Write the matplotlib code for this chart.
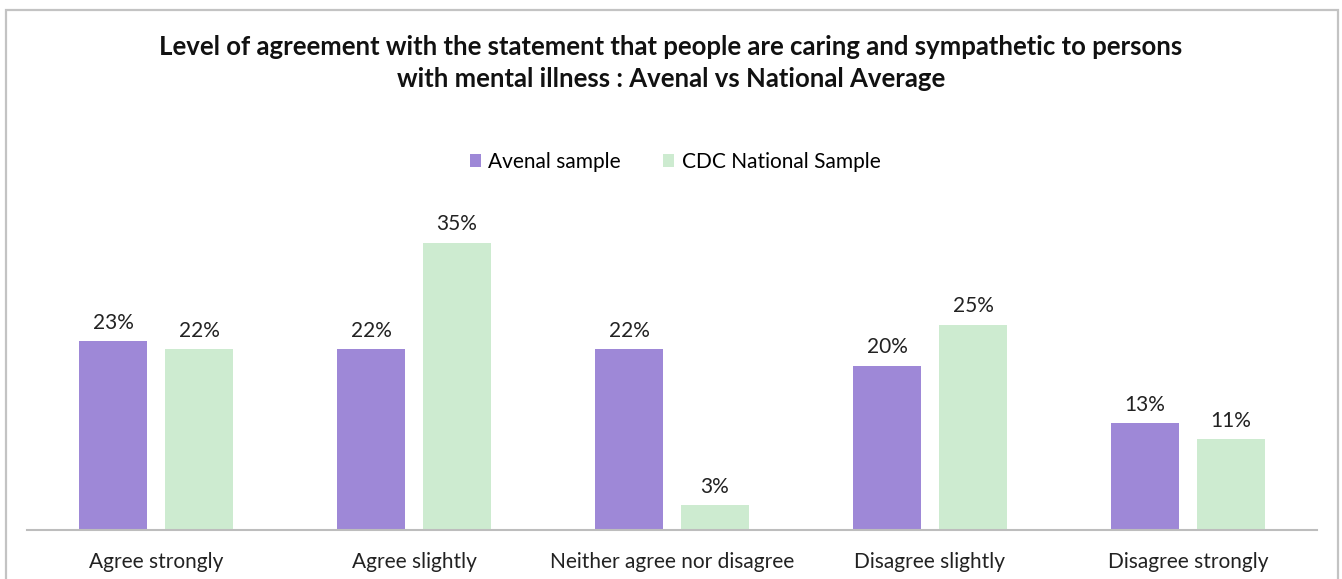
import matplotlib
matplotlib.use('Agg')
import matplotlib.pyplot as plt
import numpy as np
from matplotlib.patches import Rectangle

categories = ['Agree strongly', 'Agree slightly', 'Neither agree nor disagree',
              'Disagree slightly', 'Disagree strongly']
avenal = [23, 22, 22, 20, 13]
cdc_national = [22, 35, 3, 25, 11]
series_names = ['Avenal sample', 'CDC National Sample']

purple = '#9E88D7'
green = '#CDEBD0'

plt.rcParams['font.family'] = ['Lato', 'DejaVu Sans']

W, H = 1342, 579
fig = plt.figure(figsize=(W / 100, H / 100), dpi=100)

# outer chart frame
fig.patches.append(Rectangle((6 / W, -0.05), 1332 / W, 1.05 - 10 / H,
                             transform=fig.transFigure, fill=False,
                             edgecolor='#C3C3C3', linewidth=1.6))

ax = fig.add_axes([27 / W, 49.5 / H, 1290 / W, 328 / H])

x = np.arange(len(categories))
width = 0.264
offset = 0.1667
b1 = ax.bar(x - offset, avenal, width, color=purple, label=series_names[0])
b2 = ax.bar(x + offset, cdc_national, width, color=green, label=series_names[1])

for bars, vals in ((b1, avenal), (b2, cdc_national)):
    for rect, v in zip(bars, vals):
        ax.annotate(f'{v}%', (rect.get_x() + rect.get_width() / 2, v),
                    xytext=(0, 6), textcoords='offset points',
                    ha='center', va='bottom', fontsize=15, color='#222222')

ax.set_xlim(-0.5, len(categories) - 0.5)
ax.set_ylim(0, 40)
ax.set_xticks(x)
ax.set_xticklabels(categories, fontsize=15, color='#222222')
ax.tick_params(axis='x', length=0, pad=16)
ax.set_yticks([])
for side in ('top', 'left', 'right'):
    ax.spines[side].set_visible(False)
ax.spines['bottom'].set_color('#BDBDBD')
ax.spines['bottom'].set_linewidth(1.5)

fig.text(671 / W, 1 - 63 / H,
         'Level of agreement with the statement that people are caring and sympathetic to persons\n'
         'with mental illness : Avenal vs National Average',
         ha='center', va='center', fontsize=18.5, fontweight='bold',
         linespacing=1.38, color='#111111')

fig.legend(handles=[b1, b2], labels=series_names, loc='center',
           bbox_to_anchor=(675 / W, 1 - 162 / H), ncol=2, frameon=False,
           fontsize=15, handlelength=0.55, handleheight=0.55,
           handletextpad=0.35, columnspacing=2.0)

fig.savefig('out.png', dpi=100, facecolor='white')
